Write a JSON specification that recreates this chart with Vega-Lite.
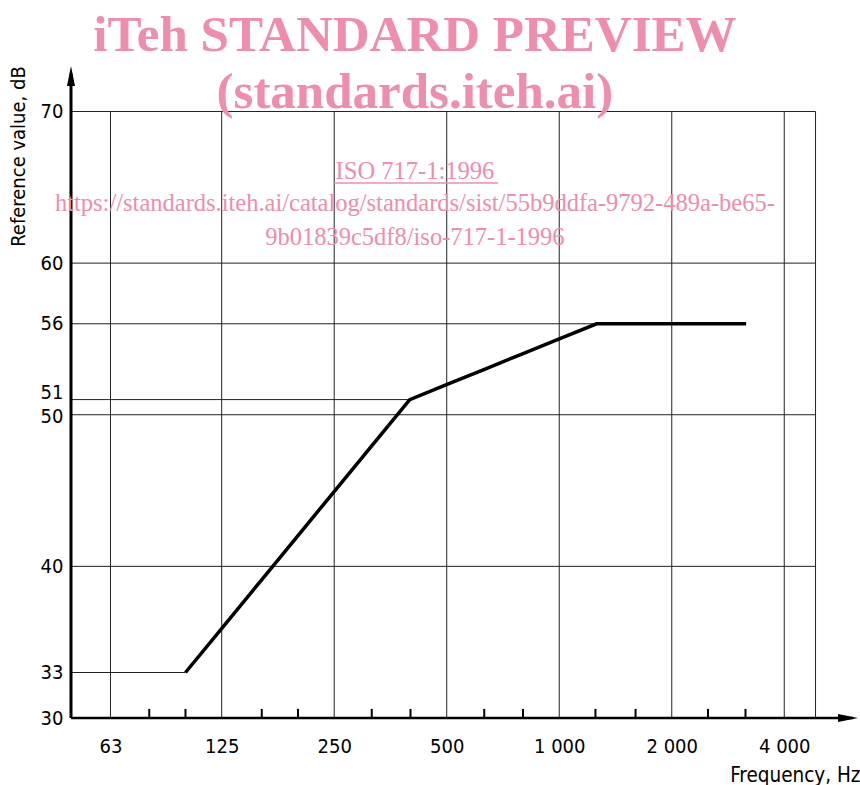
{
  "$schema": "https://vega.github.io/schema/vega-lite/v6.json",
  "width": 787,
  "height": 652,
  "autosize": {"type": "none"},
  "padding": {"left": 71, "top": 66, "right": 2, "bottom": 67},
  "background": "white",
  "config": {
    "view": {"stroke": null},
    "axis": {"domain": false, "ticks": false, "grid": false, "labelOverlap": false, "labelFont": "DejaVu Sans Condensed", "labelFontSize": 20, "labelColor": "black", "titleFont": "DejaVu Sans Condensed", "titleFontWeight": "normal", "titleColor": "black"}
  },
  "datasets": {
    "curve": [
      {"f": 100, "dB": 33}, {"f": 125.89, "dB": 36}, {"f": 158.49, "dB": 39}, {"f": 199.53, "dB": 42},
      {"f": 251.19, "dB": 45}, {"f": 316.23, "dB": 48}, {"f": 398.11, "dB": 51}, {"f": 501.19, "dB": 52},
      {"f": 630.96, "dB": 53}, {"f": 794.33, "dB": 54}, {"f": 1000, "dB": 55}, {"f": 1258.9, "dB": 56},
      {"f": 1584.9, "dB": 56}, {"f": 1995.3, "dB": 56}, {"f": 2511.9, "dB": 56}, {"f": 3162.3, "dB": 56}
    ],
    "hgrid": [
      {"dB": 33, "f1": 49.4, "f2": 100}, {"dB": 40, "f1": 49.4, "f2": 4850},
      {"dB": 50, "f1": 49.4, "f2": 4850}, {"dB": 51, "f1": 49.4, "f2": 398.11},
      {"dB": 56, "f1": 49.4, "f2": 1258.9}, {"dB": 60, "f1": 49.4, "f2": 4850},
      {"dB": 70, "f1": 49.4, "f2": 4850}
    ],
    "vgrid": [
      {"f": 63}, {"f": 125}, {"f": 250}, {"f": 500}, {"f": 1000}, {"f": 2000}, {"f": 4000}, {"f": 4850}
    ],
    "minor": [
      {"f": 80}, {"f": 100}, {"f": 160}, {"f": 200}, {"f": 315}, {"f": 400},
      {"f": 630}, {"f": 800}, {"f": 1250}, {"f": 1600}, {"f": 2500}, {"f": 3150}
    ],
    "watermark": [
      {"text": "iTeh STANDARD PREVIEW", "f": 411, "dB": 73.99, "kind": "big"},
      {"text": "(standards.iteh.ai)", "f": 411, "dB": 70.23, "kind": "big"},
      {"text": "ISO 717-1:1996", "f": 411, "dB": 65.55, "kind": "small"},
      {"text": "https://standards.iteh.ai/catalog/standards/sist/55b9ddfa-9792-489a-be65-", "f": 411, "dB": 63.44, "kind": "small"},
      {"text": "9b01839c5df8/iso-717-1-1996", "f": 411, "dB": 61.19, "kind": "small"}
    ]
  },
  "layer": [
    {
      "data": {"name": "hgrid"},
      "mark": {"type": "rule", "color": "#222", "strokeWidth": 1},
      "encoding": {
        "x": {"field": "f1", "type": "quantitative", "scale": {"type": "log", "domain": [49.4, 6300], "nice": false}, "axis": {
          "values": [63, 125, 250, 500, 1000, 2000, 4000],
          "labelExpr": "datum.value >= 1000 ? floor(datum.value/1000) + ' 000' : '' + datum.value",
          "labelPadding": 18, "labelBaseline": "top",
          "title": "Frequency, Hz", "titleFontSize": 20.5,
          "titleX": 789, "titleY": 57, "titleAlign": "right", "titleBaseline": "middle"
        }},
        "x2": {"field": "f2"},
        "y": {"field": "dB", "type": "quantitative", "scale": {"domain": [30, 73], "zero": false, "nice": false}, "axis": {
          "values": [30, 33, 40, 50, 51, 56, 60, 70],
          "labelPadding": 8,
          "labelBaseline": {"condition": {"test": "datum.value == 51", "value": "alphabetic"}, "value": "middle"},
          "labelOffset": {"condition": [{"test": "datum.value == 51", "value": -1}, {"test": "datum.value == 50", "value": 1.5}], "value": 0},
          "title": "Reference value, dB", "titleFontSize": 20,
          "titleX": -53, "titleY": 90, "titleAngle": -90, "titleAlign": "center", "titleBaseline": "middle"
        }}
      }
    },
    {
      "data": {"name": "vgrid"},
      "mark": {"type": "rule", "color": "#222", "strokeWidth": 1},
      "encoding": {
        "x": {"field": "f", "type": "quantitative"},
        "y": {"datum": 30, "type": "quantitative"},
        "y2": {"datum": 70}
      }
    },
    {
      "data": {"name": "minor"},
      "mark": {"type": "rule", "color": "black", "strokeWidth": 2},
      "encoding": {
        "x": {"field": "f", "type": "quantitative"},
        "y": {"datum": 30, "type": "quantitative"},
        "y2": {"datum": 30.6}
      }
    },
    {
      "data": {"values": [{}]},
      "mark": {"type": "rule", "color": "black", "strokeWidth": 2.5},
      "encoding": {
        "x": {"datum": 49.4, "type": "quantitative"},
        "x2": {"datum": 6100},
        "y": {"datum": 30, "type": "quantitative"}
      }
    },
    {
      "data": {"values": [{}]},
      "mark": {"type": "rule", "color": "black", "strokeWidth": 3},
      "encoding": {
        "x": {"datum": 49.4, "type": "quantitative"},
        "y": {"datum": 30, "type": "quantitative"},
        "y2": {"datum": 72.5}
      }
    },
    {
      "data": {"values": [{}]},
      "mark": {"type": "point", "shape": "M-2,-0.4L0,0L-2,0.4Z", "filled": true, "color": "black", "opacity": 1, "size": 400},
      "encoding": {
        "x": {"datum": 6300, "type": "quantitative"},
        "y": {"datum": 30, "type": "quantitative"}
      }
    },
    {
      "data": {"values": [{}]},
      "mark": {"type": "point", "shape": "M-0.4,2L0,0L0.4,2Z", "filled": true, "color": "black", "opacity": 1, "size": 400},
      "encoding": {
        "x": {"datum": 49.4, "type": "quantitative"},
        "y": {"datum": 73, "type": "quantitative"}
      }
    },
    {
      "data": {"name": "curve"},
      "mark": {"type": "line", "color": "black", "strokeWidth": 3.5, "strokeJoin": "miter"},
      "encoding": {
        "x": {"field": "f", "type": "quantitative"},
        "y": {"field": "dB", "type": "quantitative"}
      }
    },
    {
      "data": {"name": "watermark"},
      "transform": [{"filter": "datum.kind == 'big'"}],
      "mark": {"type": "text", "font": "Liberation Serif", "fontSize": 51, "fontWeight": "bold", "color": "#EE8DAD", "align": "center", "baseline": "alphabetic"},
      "encoding": {
        "x": {"field": "f", "type": "quantitative"},
        "y": {"field": "dB", "type": "quantitative"},
        "text": {"field": "text"}
      }
    },
    {
      "data": {"name": "watermark"},
      "transform": [{"filter": "datum.kind == 'small'"}],
      "mark": {"type": "text", "font": "Liberation Serif", "fontSize": 24.5, "fontWeight": "normal", "color": "#EE8DAD", "align": "center", "baseline": "alphabetic"},
      "encoding": {
        "x": {"field": "f", "type": "quantitative"},
        "y": {"field": "dB", "type": "quantitative"},
        "text": {"field": "text"}
      }
    },
    {
      "data": {"values": [{}]},
      "mark": {"type": "rule", "color": "#EE8DAD", "strokeWidth": 1.5},
      "encoding": {
        "x": {"datum": 248, "type": "quantitative"},
        "x2": {"datum": 686},
        "y": {"datum": 65.28, "type": "quantitative"}
      }
    }
  ]
}
